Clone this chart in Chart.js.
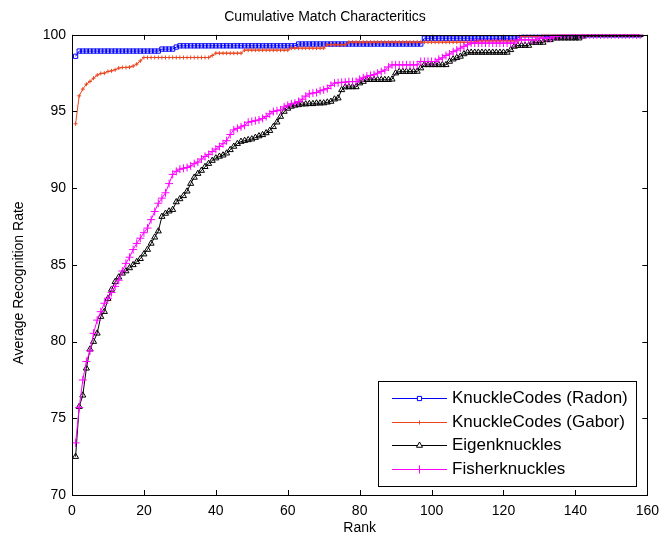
<!DOCTYPE html>
<html>
<head>
<meta charset="utf-8">
<script src="https://cdn.jsdelivr.net/npm/chart.js@4.4.0/dist/chart.umd.min.js"></script>
<style>
  html, body { margin: 0; padding: 0; background: #fff; }
</style>
</head>
<body>
<canvas id="cmc" width="667" height="540"></canvas>
<script>
// ranks 1..158 (x axis categories)
const ranks = Array.from({ length: 158 }, (_, i) => i + 1);

// recognition rates, one value per rank
const radon = [
  98.6, 98.94, 98.94, 98.94, 98.94, 98.94, 98.94, 98.94, 98.94, 98.94,
  98.94, 98.94, 98.94, 98.94, 98.94, 98.94, 98.94, 98.94, 98.94, 98.94,
  98.94, 98.94, 98.94, 98.94, 99.07, 99.07, 99.07, 99.07, 99.2, 99.28,
  99.28, 99.28, 99.28, 99.28, 99.28, 99.28, 99.28, 99.28, 99.28, 99.28,
  99.28, 99.28, 99.28, 99.28, 99.28, 99.28, 99.28, 99.28, 99.28, 99.28,
  99.28, 99.28, 99.28, 99.28, 99.28, 99.28, 99.28, 99.28, 99.28, 99.28,
  99.28, 99.28, 99.4, 99.4, 99.4, 99.4, 99.4, 99.4, 99.4, 99.4,
  99.4, 99.4, 99.4, 99.4, 99.4, 99.4, 99.4, 99.4, 99.4, 99.4,
  99.4, 99.4, 99.4, 99.4, 99.4, 99.4, 99.4, 99.4, 99.4, 99.4,
  99.4, 99.4, 99.4, 99.4, 99.4, 99.4, 99.4, 99.78, 99.78, 99.78,
  99.78, 99.78, 99.78, 99.78, 99.78, 99.78, 99.78, 99.78, 99.78, 99.78,
  99.78, 99.78, 99.78, 99.78, 99.78, 99.78, 99.78, 99.78, 99.78, 99.78,
  99.78, 99.78, 99.78, 99.78, 100, 100, 100, 100, 100, 100,
  100, 100, 100, 100, 100, 100, 100, 100, 100, 100,
  100, 100, 100, 100, 100, 100, 100, 100, 100, 100,
  100, 100, 100, 100, 100, 100, 100, 100
];

const gabor = [
  94.2, 96.02, 96.46, 96.78, 96.96, 97.17, 97.37, 97.48, 97.5, 97.61,
  97.65, 97.72, 97.83, 97.87, 97.87, 97.89, 97.96, 98.09, 98.3, 98.52,
  98.52, 98.52, 98.52, 98.52, 98.52, 98.52, 98.52, 98.52, 98.52, 98.52,
  98.52, 98.52, 98.52, 98.52, 98.52, 98.52, 98.52, 98.52, 98.65, 98.8,
  98.8, 98.8, 98.8, 98.8, 98.8, 98.8, 98.8, 99.0, 99.0, 99.0,
  99.0, 99.0, 99.0, 99.0, 99.0, 99.0, 99.0, 99.0, 99.0, 99.0,
  99.13, 99.13, 99.13, 99.13, 99.13, 99.13, 99.13, 99.13, 99.13, 99.13,
  99.35, 99.35, 99.35, 99.35, 99.35, 99.35, 99.52, 99.52, 99.52, 99.52,
  99.52, 99.52, 99.52, 99.52, 99.52, 99.52, 99.52, 99.52, 99.52, 99.52,
  99.52, 99.52, 99.52, 99.52, 99.52, 99.52, 99.52, 99.52, 99.52, 99.52,
  99.52, 99.52, 99.52, 99.52, 99.52, 99.52, 99.52, 99.52, 99.52, 99.52,
  99.52, 99.52, 99.6, 99.6, 99.6, 99.6, 99.6, 99.6, 99.6, 99.6,
  99.6, 99.6, 99.6, 99.6, 99.9, 99.9, 99.9, 99.9, 99.9, 99.9,
  100, 100, 100, 100, 100, 100, 100, 100, 100, 100,
  100, 100, 100, 100, 100, 100, 100, 100, 100, 100,
  100, 100, 100, 100, 100, 100, 100, 100
];

const eigen = [
  72.5, 75.76, 76.5, 78.26, 79.5, 80.0, 80.54, 81.63, 81.95, 82.8,
  83.4, 83.9, 84.2, 84.45, 84.6, 84.8, 85.0, 85.2, 85.4, 85.7,
  86.0, 86.4, 86.8, 87.2, 88.15, 88.35, 88.5, 88.6, 89.1, 89.3,
  89.5, 89.8, 90.3, 90.7, 90.95, 91.15, 91.4, 91.6, 91.8, 91.96,
  92.07, 92.15, 92.28, 92.5, 92.72, 92.9, 93.04, 93.1, 93.15, 93.2,
  93.3, 93.4, 93.48, 93.6, 93.75, 94.0, 94.3, 94.67, 95.0, 95.2,
  95.33, 95.4, 95.43, 95.48, 95.48, 95.5, 95.5, 95.54, 95.54, 95.55,
  95.6, 95.65, 95.8, 95.87, 96.41, 96.59, 96.6, 96.6, 96.6, 96.85,
  96.95, 97.07, 97.07, 97.07, 97.07, 97.07, 97.07, 97.07, 97.1, 97.5,
  97.6, 97.6, 97.6, 97.6, 97.6, 97.61, 97.83, 98.04, 98.04, 98.04,
  98.04, 98.04, 98.04, 98.04, 98.26, 98.41, 98.5, 98.59, 98.75, 98.85,
  98.85, 98.85, 98.85, 98.85, 98.85, 98.85, 98.85, 98.85, 98.85, 98.85,
  98.85, 99.02, 99.24, 99.3, 99.3, 99.3, 99.3, 99.5, 99.5, 99.5,
  99.5, 99.67, 99.67, 99.78, 99.78, 99.78, 99.78, 99.78, 99.78, 99.78,
  99.78, 99.9, 100, 100, 100, 100, 100, 100, 100, 100,
  100, 100, 100, 100, 100, 100, 100, 100
];

const fisher = [
  73.4, 75.7, 77.5, 78.7, 79.4, 80.54, 81.4, 81.95, 82.5, 82.83,
  83.2, 83.6, 84.0, 84.6, 85.1, 85.5, 86.0, 86.4, 86.74, 87.1,
  87.4, 87.95, 88.48, 89.02, 89.35, 89.7, 90.3, 90.9, 91.1, 91.24,
  91.3, 91.35, 91.45, 91.6, 91.7, 91.9, 92.07, 92.2, 92.39, 92.55,
  92.72, 92.9, 93.1, 93.5, 93.8, 93.9, 94.0, 94.1, 94.3, 94.35,
  94.4, 94.45, 94.55, 94.67, 94.85, 95.0, 95.05, 95.1, 95.3, 95.4,
  95.5, 95.55, 95.65, 95.8, 96.0, 96.15, 96.2, 96.24, 96.35, 96.41,
  96.5, 96.7, 96.85, 96.88, 96.9, 96.91, 96.95, 96.95, 96.95, 97.1,
  97.2, 97.3, 97.35, 97.4, 97.5, 97.6, 97.7, 97.9, 98.04, 98.04,
  98.04, 98.04, 98.04, 98.04, 98.04, 98.04, 98.26, 98.26, 98.26, 98.26,
  98.26, 98.4, 98.5, 98.65, 98.75, 98.9, 99.0, 99.13, 99.25, 99.35,
  99.46, 99.46, 99.46, 99.46, 99.46, 99.46, 99.46, 99.46, 99.46, 99.46,
  99.46, 99.46, 99.46, 99.67, 99.67, 99.67, 99.67, 99.67, 99.67, 99.78,
  99.78, 99.78, 99.78, 99.9, 99.9, 100, 100, 100, 100, 100,
  100, 100, 100, 100, 100, 100, 100, 100, 100, 100,
  100, 100, 100, 100, 100, 100, 100, 100
];

const seriesNames = ['KnuckleCodes (Radon)', 'KnuckleCodes (Gabor)', 'Eigenknuckles', 'Fisherknuckles'];
const seriesColors = ['#0000ff', '#ec4520', '#000000', '#ff00ff'];
const seriesMarkers = ['rect', 'cross', 'triangle', 'cross'];
const markerSizes = [3, 2, 3.5, 4];
const xTicks = [0, 20, 40, 60, 80, 100, 120, 140, 160];
const yTicks = [70, 75, 80, 85, 90, 95, 100];

const FONT = 'Arial, "Liberation Sans", Helvetica, sans-serif';

function points(vals) {
  return ranks.map((r, i) => ({ x: r, y: vals[i] }));
}

// frame round the plot, inward ticks on all four sides, y label and the legend box
const matlabAxes = {
  id: 'matlabAxes',
  afterDraw(chart) {
    const { ctx, chartArea: a, scales } = chart;
    ctx.save();
    ctx.strokeStyle = '#000';
    ctx.lineWidth = 1;
    ctx.strokeRect(Math.round(a.left) + 0.5, Math.round(a.top) + 0.5,
      Math.round(a.right - a.left), Math.round(a.bottom - a.top));
    ctx.beginPath();
    for (const t of xTicks) {
      const px = Math.round(scales.x.getPixelForValue(t)) + 0.5;
      ctx.moveTo(px, a.bottom); ctx.lineTo(px, a.bottom - 5);
      ctx.moveTo(px, a.top); ctx.lineTo(px, a.top + 5);
    }
    for (const t of yTicks) {
      const py = Math.round(scales.y.getPixelForValue(t)) + 0.5;
      ctx.moveTo(a.left, py); ctx.lineTo(a.left + 5, py);
      ctx.moveTo(a.right, py); ctx.lineTo(a.right - 5, py);
    }
    ctx.stroke();

    // y axis label, sits a little below the middle like in the original
    ctx.save();
    ctx.translate(19, 283);
    ctx.rotate(-Math.PI / 2);
    ctx.fillStyle = '#000';
    ctx.font = '14px ' + FONT;
    ctx.textAlign = 'center';
    ctx.textBaseline = 'middle';
    ctx.fillText('Average Recognition Rate', 0, 0);
    ctx.restore();

    // legend
    const bx = 378, by = 381, bw = 258, bh = 105;
    ctx.fillStyle = '#fff';
    ctx.fillRect(bx, by, bw, bh);
    ctx.strokeStyle = '#000';
    ctx.strokeRect(bx + 0.5, by + 0.5, bw, bh);
    ctx.font = '17px ' + FONT;
    ctx.textBaseline = 'middle';
    seriesNames.forEach((name, i) => {
      const y = Math.round(by + 17 + i * 23.5) + 0.5;
      ctx.strokeStyle = seriesColors[i];
      ctx.lineWidth = 1;
      ctx.beginPath();
      ctx.moveTo(392, y);
      ctx.lineTo(447, y);
      ctx.stroke();
      ctx.fillStyle = '#fff';
      Chart.helpers.drawPoint(ctx, {
        pointStyle: seriesMarkers[i], radius: markerSizes[i], borderWidth: 1, rotation: 0
      }, 419.5, y);
      ctx.fillStyle = '#000';
      ctx.fillText(name, 452, y);
    });
    ctx.restore();
  }
};

const datasets = [radon, gabor, eigen, fisher].map((vals, i) => ({
  label: seriesNames[i],
  data: points(vals),
  order: 3 - i, // later series drawn on top, as in the original
  borderColor: seriesColors[i],
  borderWidth: 1,
  pointStyle: seriesMarkers[i],
  pointRadius: markerSizes[i],
  pointBorderWidth: 1,
  pointBorderColor: seriesColors[i],
  pointBackgroundColor: 'rgba(0,0,0,0)'
}));

new Chart(document.getElementById('cmc'), {
  type: 'line',
  data: { datasets },
  options: {
    responsive: false,
    animation: false,
    devicePixelRatio: 1,
    layout: { padding: { left: 0, right: 17, top: 0, bottom: 0 } },
    elements: { line: { tension: 0 } },
    plugins: {
      legend: { display: false },
      tooltip: { enabled: false },
      title: {
        display: true,
        text: 'Cumulative Match Characteritics',
        color: '#000',
        font: { family: FONT, size: 14, weight: 'normal' },
        padding: { top: 9, bottom: 9 }
      }
    },
    scales: {
      x: {
        type: 'linear', min: 0, max: 160,
        afterFit(scale) { scale.height = 45; },
        afterBuildTicks(scale) { scale.ticks = xTicks.map(v => ({ value: v })); },
        grid: { display: false, drawTicks: false },
        border: { display: false },
        ticks: { color: '#000', padding: 8, font: { family: FONT, size: 14 } },
        title: {
          display: true, text: 'Rank', color: '#000',
          font: { family: FONT, size: 14 }, padding: { top: 0, bottom: 3 }
        }
      },
      y: {
        type: 'linear', min: 70, max: 100,
        afterFit(scale) { scale.width = 72; },
        afterBuildTicks(scale) { scale.ticks = yTicks.map(v => ({ value: v })); },
        grid: { display: false, drawTicks: false },
        border: { display: false },
        ticks: { color: '#000', padding: 6, font: { family: FONT, size: 14 } }
      }
    }
  },
  plugins: [matlabAxes]
});
</script>
</body>
</html>
